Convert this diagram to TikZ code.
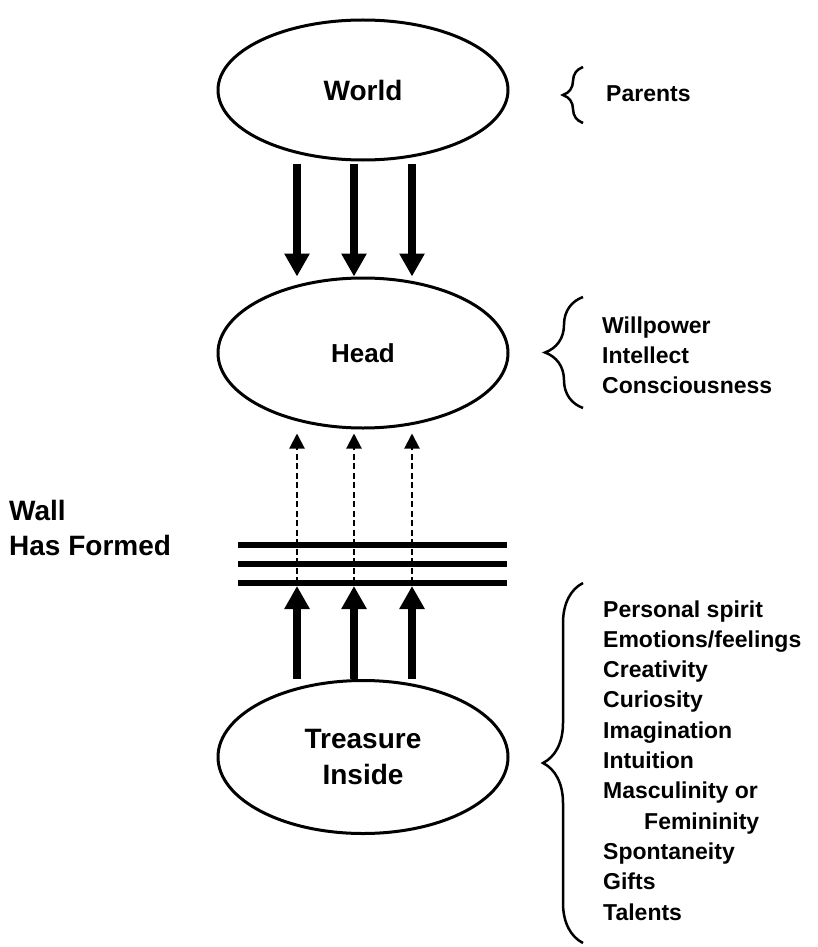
\documentclass[tikz,border=0pt]{standalone}
\usepackage{fontspec}
\setmainfont{Liberation Sans}
\usetikzlibrary{shapes.geometric,arrows.meta,decorations.pathreplacing}
\tikzset{
    blob/.style = {ellipse, draw, line width=3pt, minimum width=290pt, minimum height=150pt, inner sep=0pt, align=center, font=\fontsize{28}{36}\selectfont\bfseries},
    push/.style = {line width=8pt, -{Triangle[width=24pt,length=23pt]}},
    seep/.style = {line width=2pt, dash pattern=on 6pt off 3.5pt, -{Triangle[width=15pt,length=15pt]}},
    wallline/.style = {line width=5.5pt},
    curly/.style = {decorate, line width=2.5pt},
    items/.style = {anchor=base west, inner sep=0pt, align=left, font=\fontsize{23}{30}\selectfont\bfseries},
}

\begin{document}
\begin{tikzpicture}[x=1pt,y=-1pt]
    \useasboundingbox (0,0) rectangle (817,947);
    \node (world) at (363,90) [blob, minimum height=140pt] {World};
    \node (head) at (363,353) [blob, font=\fontsize{26}{32}\selectfont\bfseries] {Head};
    \node (treasure) at (363,757) [blob, minimum height=153pt] {Treasure\\Inside};
    \coordinate (wall) at (363,583);
    \foreach \y in {545,564,583}
        \draw[wallline] (238,\y) -- (507,\y);
    \foreach \dx in {-66,-9,49} {
        \draw[push, shorten <=2pt] ([xshift=\dx pt]world.south) -- ([xshift=\dx pt]head.north);
        \draw[seep, shorten >=4pt] ([xshift=\dx pt]wall) -- ([xshift=\dx pt]head.south);
        \draw[push, shorten >=3pt] ([xshift=\dx pt]treasure.north) -- ([xshift=\dx pt]wall);
    }
    % braces on the right
    \draw[curly, decoration={brace, amplitude=20pt}] (583,123) -- (583,67);
    \draw[curly, decoration={brace, amplitude=38pt}] (583,408) -- (583,297);
    \draw[curly, decoration={brace, amplitude=40pt}] (583,943) -- (583,583);
    % lists are placed by their last line
    \node (parents) at (606,102) [items] {Parents};
    \node (mind) at (602,393) [items] {Willpower\\Intellect\\Consciousness};
    \node (inner) at (603,920) [items, font=\fontsize{23}{30.3}\selectfont\bfseries] {Personal spirit\\Emotions/feelings\\Creativity\\Curiosity\\Imagination\\Intuition\\Masculinity or\\\hspace*{41pt}Femininity\\Spontaneity\\Gifts\\Talents};
    \node (walltext) at (9,555) [items, font=\fontsize{28}{35}\selectfont\bfseries] {Wall\\Has Formed};
\end{tikzpicture}
\end{document}
